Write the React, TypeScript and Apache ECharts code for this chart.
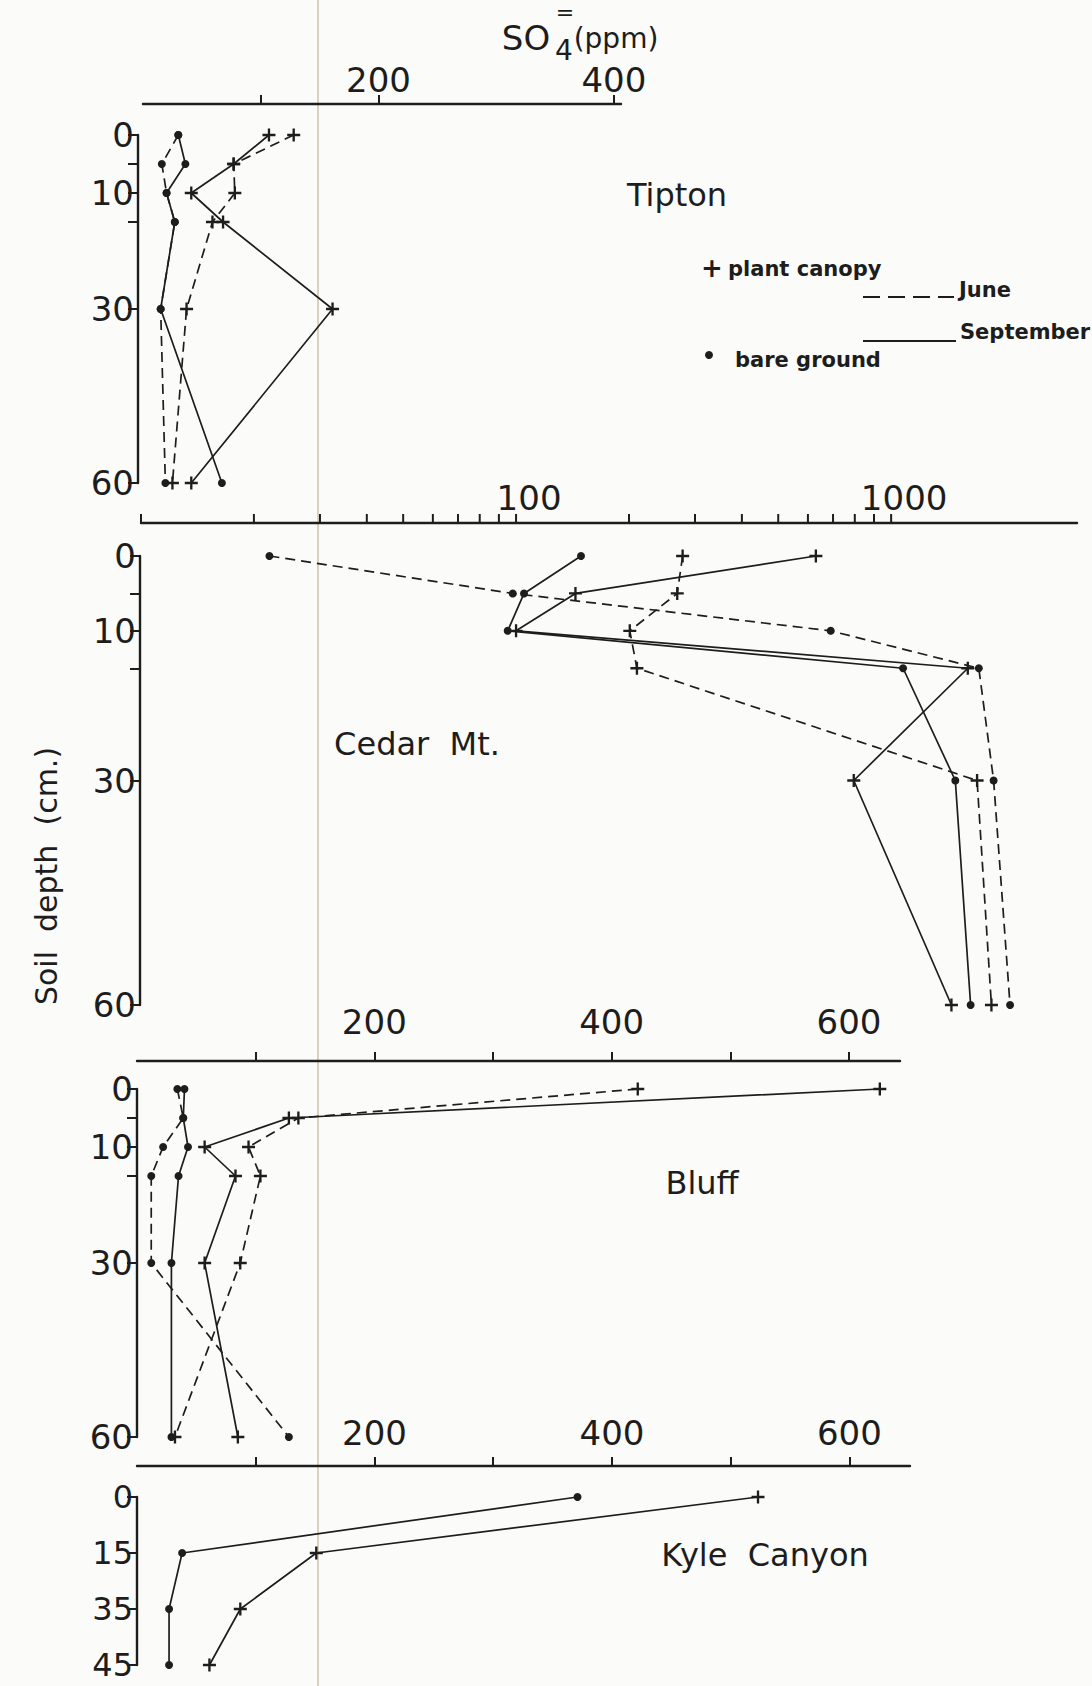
import React, { useEffect, useRef } from 'react';
import * as echarts from 'echarts';

// ---------- data ----------
const depths = [0, 5, 10, 15, 30, 60];
const kyleDepths = ['0', '15', '35', '45'];

const tiptonCanopyJune = [128, 77, 78, 59, 37, 25];
const tiptonCanopySept = [107, 77, 41, 68, 161, 41];
const tiptonBareJune = [30, 16, 20, 27, 15, 19];
const tiptonBareSept = [30, 36, 20, 27, 15, 67];

const cedarCanopyJune = [278, 269, 201, 210, 1695, 1851];
const cedarCanopySept = [630, 144, 100, 1601, 795, 1448];
const cedarBareJune = [22, 98, 690, 1713, 1876, 2075];
const cedarBareSept = [149, 105, 95, 1076, 1483, 1629];

const bluffCanopyJune = [422, 136, 94, 104, 87, 32];
const bluffCanopySept = [626, 128, 57, 83, 57, 85];
const bluffBareJune = [34, 39, 22, 12, 12, 128];
const bluffBareSept = [40, 39, 43, 35, 29, 29];

const kyleCanopySept = [523, 151, 87, 61];
const kyleBareSept = [371, 38, 27, 27];

const tiptonXTicks = [100, 200, 400];
const tiptonXLabels = [200, 400];
const depthTicks = [0, 5, 10, 15, 30, 60];
const depthLabels = [0, 10, 30, 60];
const cedarTicks = [10, 20, 30, 40, 50, 60, 70, 80, 90, 100, 200, 300, 400, 500, 600, 700, 800, 900, 1000];
const cedarLabels = [100, 1000];
const linearTicks = [100, 200, 300, 400, 500, 600];
const linearLabels = [200, 400, 600];

// ---------- style ----------
const W = 1092;
const H = 1686;
const INK = '#1d1d1d';
const FONT = '"DejaVu Sans", sans-serif';
const PLUS = 'path://M4.1,0H5.9V4.1H10V5.9H5.9V10H4.1V5.9H0V4.1H4.1Z';

function mkSeries(name: string, vals: number[], ys: any[], idx: number, cover: string, season: string) {
  return {
    type: 'line',
    name,
    xAxisIndex: idx,
    yAxisIndex: idx,
    data: vals.map((v, i) => [v, ys[i]]),
    symbol: cover === 'canopy' ? PLUS : 'circle',
    symbolSize: cover === 'canopy' ? 13 : 8,
    showSymbol: true,
    clip: false,
    itemStyle: { color: INK },
    lineStyle: { color: INK, width: 1.7, type: season === 'june' ? [10, 6] : 'solid' },
    emphasis: { disabled: true },
    z: 3,
  };
}

const tickLabelStyle = { color: INK, fontFamily: FONT, fontSize: 34 };

function xLinear(gi: number, max: number, ticks: number[], labels: number[], offset: number, margin: number) {
  return {
    type: 'value',
    gridIndex: gi,
    position: 'top',
    min: 0,
    max,
    offset,
    axisLine: { show: true, onZero: false, lineStyle: { color: INK, width: 2.4 } },
    axisTick: { show: true, customValues: ticks, length: 9, inside: false, lineStyle: { color: INK, width: 2 } },
    axisLabel: { show: true, customValues: labels, margin, ...tickLabelStyle },
    splitLine: { show: false },
  };
}

function yDepth(gi: number, offset: number) {
  return {
    type: 'value',
    gridIndex: gi,
    inverse: true,
    min: 0,
    max: 60,
    offset,
    axisLine: { show: true, onZero: false, lineStyle: { color: INK, width: 2.4 } },
    axisTick: { show: true, customValues: depthTicks, length: 10, lineStyle: { color: INK, width: 2 } },
    axisLabel: { show: true, customValues: depthLabels, margin: 4, ...tickLabelStyle },
    splitLine: { show: false },
  };
}

const CEDAR_TOP = 556;
const CEDAR_OFFSET = 33;

function txt(id: string, text: string, x: number, y: number, size: number, opts: any = {}) {
  return {
    type: 'text',
    id,
    x,
    y,
    z: 5,
    style: {
      text,
      fill: INK,
      font: `${opts.weight || 'normal'} ${size}px ${FONT}`,
      align: opts.align || 'center',
      verticalAlign: 'middle',
    },
    rotation: opts.rotation || 0,
  };
}

export default function App() {
  const ref = useRef<HTMLDivElement>(null);

  useEffect(() => {
    if (!ref.current) return;
    const chart = echarts.init(ref.current, undefined, { renderer: 'svg', width: W, height: H });

    const option: any = {
      animation: false,
      backgroundColor: '#fbfbf9',
      grid: [
        { left: 143, top: 135, width: 478, height: 348 },
        { left: 141, top: CEDAR_TOP, width: 936, height: 449 },
        { left: 137, top: 1089, width: 763, height: 348 },
        { left: 137, top: 1497, width: 773, height: 168 },
      ],
      xAxis: [
        xLinear(0, 406, tiptonXTicks, tiptonXLabels, 31, 7),
        {
          type: 'log',
          logBase: 10,
          gridIndex: 1,
          position: 'top',
          min: 10,
          max: 3130,
          offset: CEDAR_OFFSET,
          axisLine: { show: true, onZero: false, lineStyle: { color: INK, width: 2.4 } },
          axisTick: { show: false },
          axisLabel: {
            show: true,
            margin: 8,
            padding: [0, 0, 0, 26],
            ...tickLabelStyle,
            formatter: (v: number) => (cedarLabels.indexOf(Math.round(v)) >= 0 ? String(Math.round(v)) : ''),
          },
          splitLine: { show: false },
          minorTick: { show: false },
        },
        xLinear(2, 643, linearTicks, linearLabels, 28, 22),
        xLinear(3, 651, linearTicks, linearLabels, 31, 16),
      ],
      yAxis: [
        yDepth(0, 5),
        yDepth(1, 1),
        yDepth(2, 0),
        {
          type: 'category',
          gridIndex: 3,
          inverse: true,
          boundaryGap: false,
          data: kyleDepths,
          axisLine: { show: true, onZero: false, lineStyle: { color: INK, width: 2.4 } },
          axisTick: { show: true, length: 10, lineStyle: { color: INK, width: 2 } },
          axisLabel: { show: true, margin: 4, ...tickLabelStyle, fontSize: 32, lineHeight: 32 },
          splitLine: { show: false },
        },
      ],
      series: [
        mkSeries('Tipton plant canopy June', tiptonCanopyJune, depths, 0, 'canopy', 'june'),
        mkSeries('Tipton plant canopy September', tiptonCanopySept, depths, 0, 'canopy', 'sept'),
        mkSeries('Tipton bare ground June', tiptonBareJune, depths, 0, 'bare', 'june'),
        mkSeries('Tipton bare ground September', tiptonBareSept, depths, 0, 'bare', 'sept'),
        mkSeries('Cedar Mt. plant canopy June', cedarCanopyJune, depths, 1, 'canopy', 'june'),
        mkSeries('Cedar Mt. plant canopy September', cedarCanopySept, depths, 1, 'canopy', 'sept'),
        mkSeries('Cedar Mt. bare ground June', cedarBareJune, depths, 1, 'bare', 'june'),
        mkSeries('Cedar Mt. bare ground September', cedarBareSept, depths, 1, 'bare', 'sept'),
        mkSeries('Bluff plant canopy June', bluffCanopyJune, depths, 2, 'canopy', 'june'),
        mkSeries('Bluff plant canopy September', bluffCanopySept, depths, 2, 'canopy', 'sept'),
        mkSeries('Bluff bare ground June', bluffBareJune, depths, 2, 'bare', 'june'),
        mkSeries('Bluff bare ground September', bluffBareSept, depths, 2, 'bare', 'sept'),
        mkSeries('Kyle Canyon plant canopy September', kyleCanopySept, kyleDepths.map((_, i) => i), 3, 'canopy', 'sept'),
        mkSeries('Kyle Canyon bare ground September', kyleBareSept, kyleDepths.map((_, i) => i), 3, 'bare', 'sept'),
      ],
      graphic: [
        {
          type: 'line',
          id: 'fold',
          z: 0,
          shape: { x1: 318, y1: 0, x2: 318, y2: H },
          style: { stroke: '#d8d1c2', lineWidth: 2 },
        },
        txt('t-so', 'SO', 526, 38, 34),
        txt('t-4', '4', 564, 50, 28),
        txt('t-eq', '=', 565, 12, 22),
        txt('t-ppm', '(ppm)', 616, 38, 28),
        txt('lab-tipton', 'Tipton', 677, 195, 32),
        txt('lab-cedar', 'Cedar  Mt.', 417, 744, 32),
        txt('lab-bluff', 'Bluff', 702, 1183, 32),
        txt('lab-kyle', 'Kyle  Canyon', 765, 1555, 32),
        txt('ylab', 'Soil  depth  (cm.)', 46, 876, 30, { rotation: Math.PI / 2 }),
        txt('lg-plus', '+', 712, 268, 26, { weight: 'bold' }),
        txt('lg-canopy', 'plant canopy', 728, 269, 21, { weight: 'bold', align: 'left' }),
        {
          type: 'line',
          id: 'lg-june-line',
          z: 5,
          shape: { x1: 863, y1: 297, x2: 954, y2: 297 },
          style: { stroke: INK, lineWidth: 2, lineDash: [17, 8] },
        },
        txt('lg-june', 'June', 959, 290, 21, { weight: 'bold', align: 'left' }),
        {
          type: 'line',
          id: 'lg-sept-line',
          z: 5,
          shape: { x1: 863, y1: 341, x2: 956, y2: 341 },
          style: { stroke: INK, lineWidth: 2 },
        },
        txt('lg-sept', 'September', 960, 332, 21, { weight: 'bold', align: 'left' }),
        {
          type: 'circle',
          id: 'lg-dot',
          z: 5,
          shape: { cx: 709, cy: 355, r: 4 },
          style: { fill: INK },
        },
        txt('lg-bare', 'bare ground', 735, 360, 21, { weight: 'bold', align: 'left' }),
      ],
    };

    chart.setOption(option);

    const axisY = CEDAR_TOP - CEDAR_OFFSET;
    const tickEls = cedarTicks.map((v) => {
      const x = chart.convertToPixel({ xAxisIndex: 1 } as any, v) as number;
      return {
        type: 'line',
        id: 'cedar-tick-' + v,
        z: 5,
        shape: { x1: x, y1: axisY, x2: x, y2: axisY - 9 },
        style: { stroke: INK, lineWidth: 2 },
      };
    });
    chart.setOption({ graphic: { elements: tickEls } });

    return () => {
      chart.dispose();
    };
  }, []);

  return (
    <div
      ref={ref}
      style={{ position: 'absolute', left: 0, top: 0, width: W, height: H, background: '#fbfbf9' }}
    />
  );
}
